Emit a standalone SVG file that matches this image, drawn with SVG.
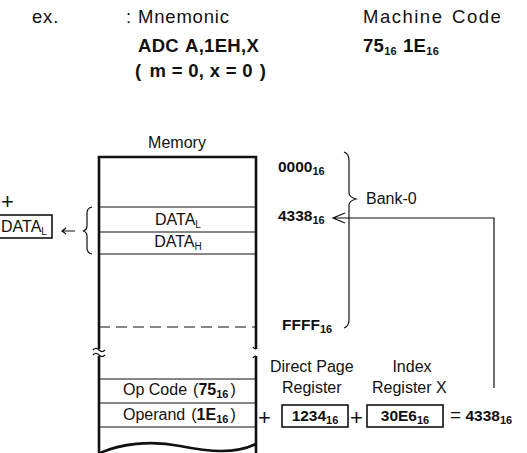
<svg xmlns="http://www.w3.org/2000/svg" width="527" height="453" viewBox="0 0 527 453">
<defs>
<style>
text{font-family:"Liberation Sans",Arial,sans-serif;fill:#111}
.h{font-size:18.5px;letter-spacing:0.8px}
.hb{font-size:18.5px;font-weight:bold;letter-spacing:0.3px}
.m{font-size:16px}
.b{font-size:15.5px;font-weight:bold}
.s{font-size:10px}
.sb{font-size:11px;font-weight:bold}
.big{font-size:22px}
.thick{fill:none;stroke:#111;stroke-width:2.6}
.thin{fill:none;stroke:#111;stroke-width:1.2}
.box{fill:#fff;stroke:#111;stroke-width:1.6}
</style>
</defs>
<rect width="527" height="453" fill="#fff"/>

<g id="header">
<text class="h" x="32" y="23">ex.</text>
<text class="h" x="126" y="23">:</text>
<text class="h" x="138" y="23">Mnemonic</text>
<text class="h" x="363" y="23" style="letter-spacing:1.5px" word-spacing="2">Machine Code</text>
<text class="hb" x="138" y="52">ADC<tspan dx="6">A,1EH,X</tspan></text>
<text class="hb" x="363" y="52">75<tspan class="sb" dy="3">16</tspan><tspan dy="-3" dx="6">1E</tspan><tspan class="sb" dy="3">16</tspan></text>
<text class="hb" x="135" y="77">(<tspan dx="8">m = 0, x = 0</tspan><tspan dx="7">)</tspan></text>
</g>

<g id="memory">
<text class="m" x="177" y="148" text-anchor="middle">Memory</text>
<path class="thick" d="M99,349 V157 H256 V349 M99,356 V453 M256,356 V453"/>
<path class="thin" d="M93,350 q3,-3 6,0 t6,0 M93,355 q3,-3 6,0 t6,0 M256,349 q-2,0 -3,-2 M256,356 q-2,0 -3,2"/>
<path class="thin" d="M99,207 H256 M99,232 H256 M99,254 H256 M99,379 H256 M99,403 H256 M99,427 H256"/>
<path class="thin" d="M99,327 H256" stroke-dasharray="11 6"/>
<path class="thick" d="M100,453 C120,444 150,440 180,446 S235,454 256,444" stroke-width="2.2"/>
<text class="m" x="178" y="225" text-anchor="middle">DATA<tspan class="s" dy="3">L</tspan></text>
<text class="m" x="178" y="247" text-anchor="middle">DATA<tspan class="s" dy="3">H</tspan></text>
<text class="m" x="123" y="395">Op Code<tspan dx="6">(</tspan><tspan font-weight="bold">75</tspan><tspan class="sb" dy="3">16</tspan><tspan dy="-3" dx="2">)</tspan></text>
<text class="m" x="123" y="420">Operand<tspan dx="6">(</tspan><tspan font-weight="bold">1E</tspan><tspan class="sb" dy="3">16</tspan><tspan dy="-3" dx="2">)</tspan></text>
</g>

<g id="accumulator">
<text class="big" x="1" y="209">+</text>
<rect class="box" x="-6" y="215" width="58" height="23" stroke-width="2"/>
<text class="m" x="1" y="232">DATA<tspan class="s" dy="3">L</tspan></text>
</g>

<g id="addresses">
<text class="b" x="278" y="172">0000<tspan class="sb" dy="3">16</tspan></text>
<text class="b" x="278" y="221">4338<tspan class="sb" dy="3">16</tspan></text>
<text class="b" x="282" y="330">FFFF<tspan class="sb" dy="3">16</tspan></text>
<text class="m" x="366" y="204">Bank-0</text>
</g>

<g id="registers">
<text class="m" x="270" y="372">Direct Page</text>
<text class="m" x="282" y="393">Register</text>
<text class="m" x="412" y="372" text-anchor="middle">Index</text>
<text class="m" x="372" y="393">Register X</text>
<text class="big" x="258" y="425">+</text>
<rect class="box" x="282" y="405" width="66" height="22"/>
<text class="b" x="315" y="421" text-anchor="middle">1234<tspan class="sb" dy="3">16</tspan></text>
<text class="big" x="350" y="425">+</text>
<rect class="box" x="367" y="405" width="76" height="22"/>
<text class="b" x="405" y="421" text-anchor="middle">30E6<tspan class="sb" dy="3">16</tspan></text>
<text class="b" x="450" y="421"><tspan style="font-size:19px;font-weight:normal">=</tspan> 4338<tspan class="sb" dy="3">16</tspan></text>
</g>

<g id="connectors">
<path class="thin" d="M75,231 H62 M66,228 L62,231 L66,234"/>
<path class="thin" d="M92,207 Q87,208 87,213 V226 Q87,230 83,231 Q87,232 87,236 V248 Q87,253 92,254"/>
<path class="thin" d="M344,152 Q349,154 349,160 V193 Q349,197 356,199 Q349,201 349,205 V320 Q349,326 344,328"/>
<path class="thin" d="M494,388 V218 H333 M345,213 L333,218 L345,223"/>
</g>
</svg>
